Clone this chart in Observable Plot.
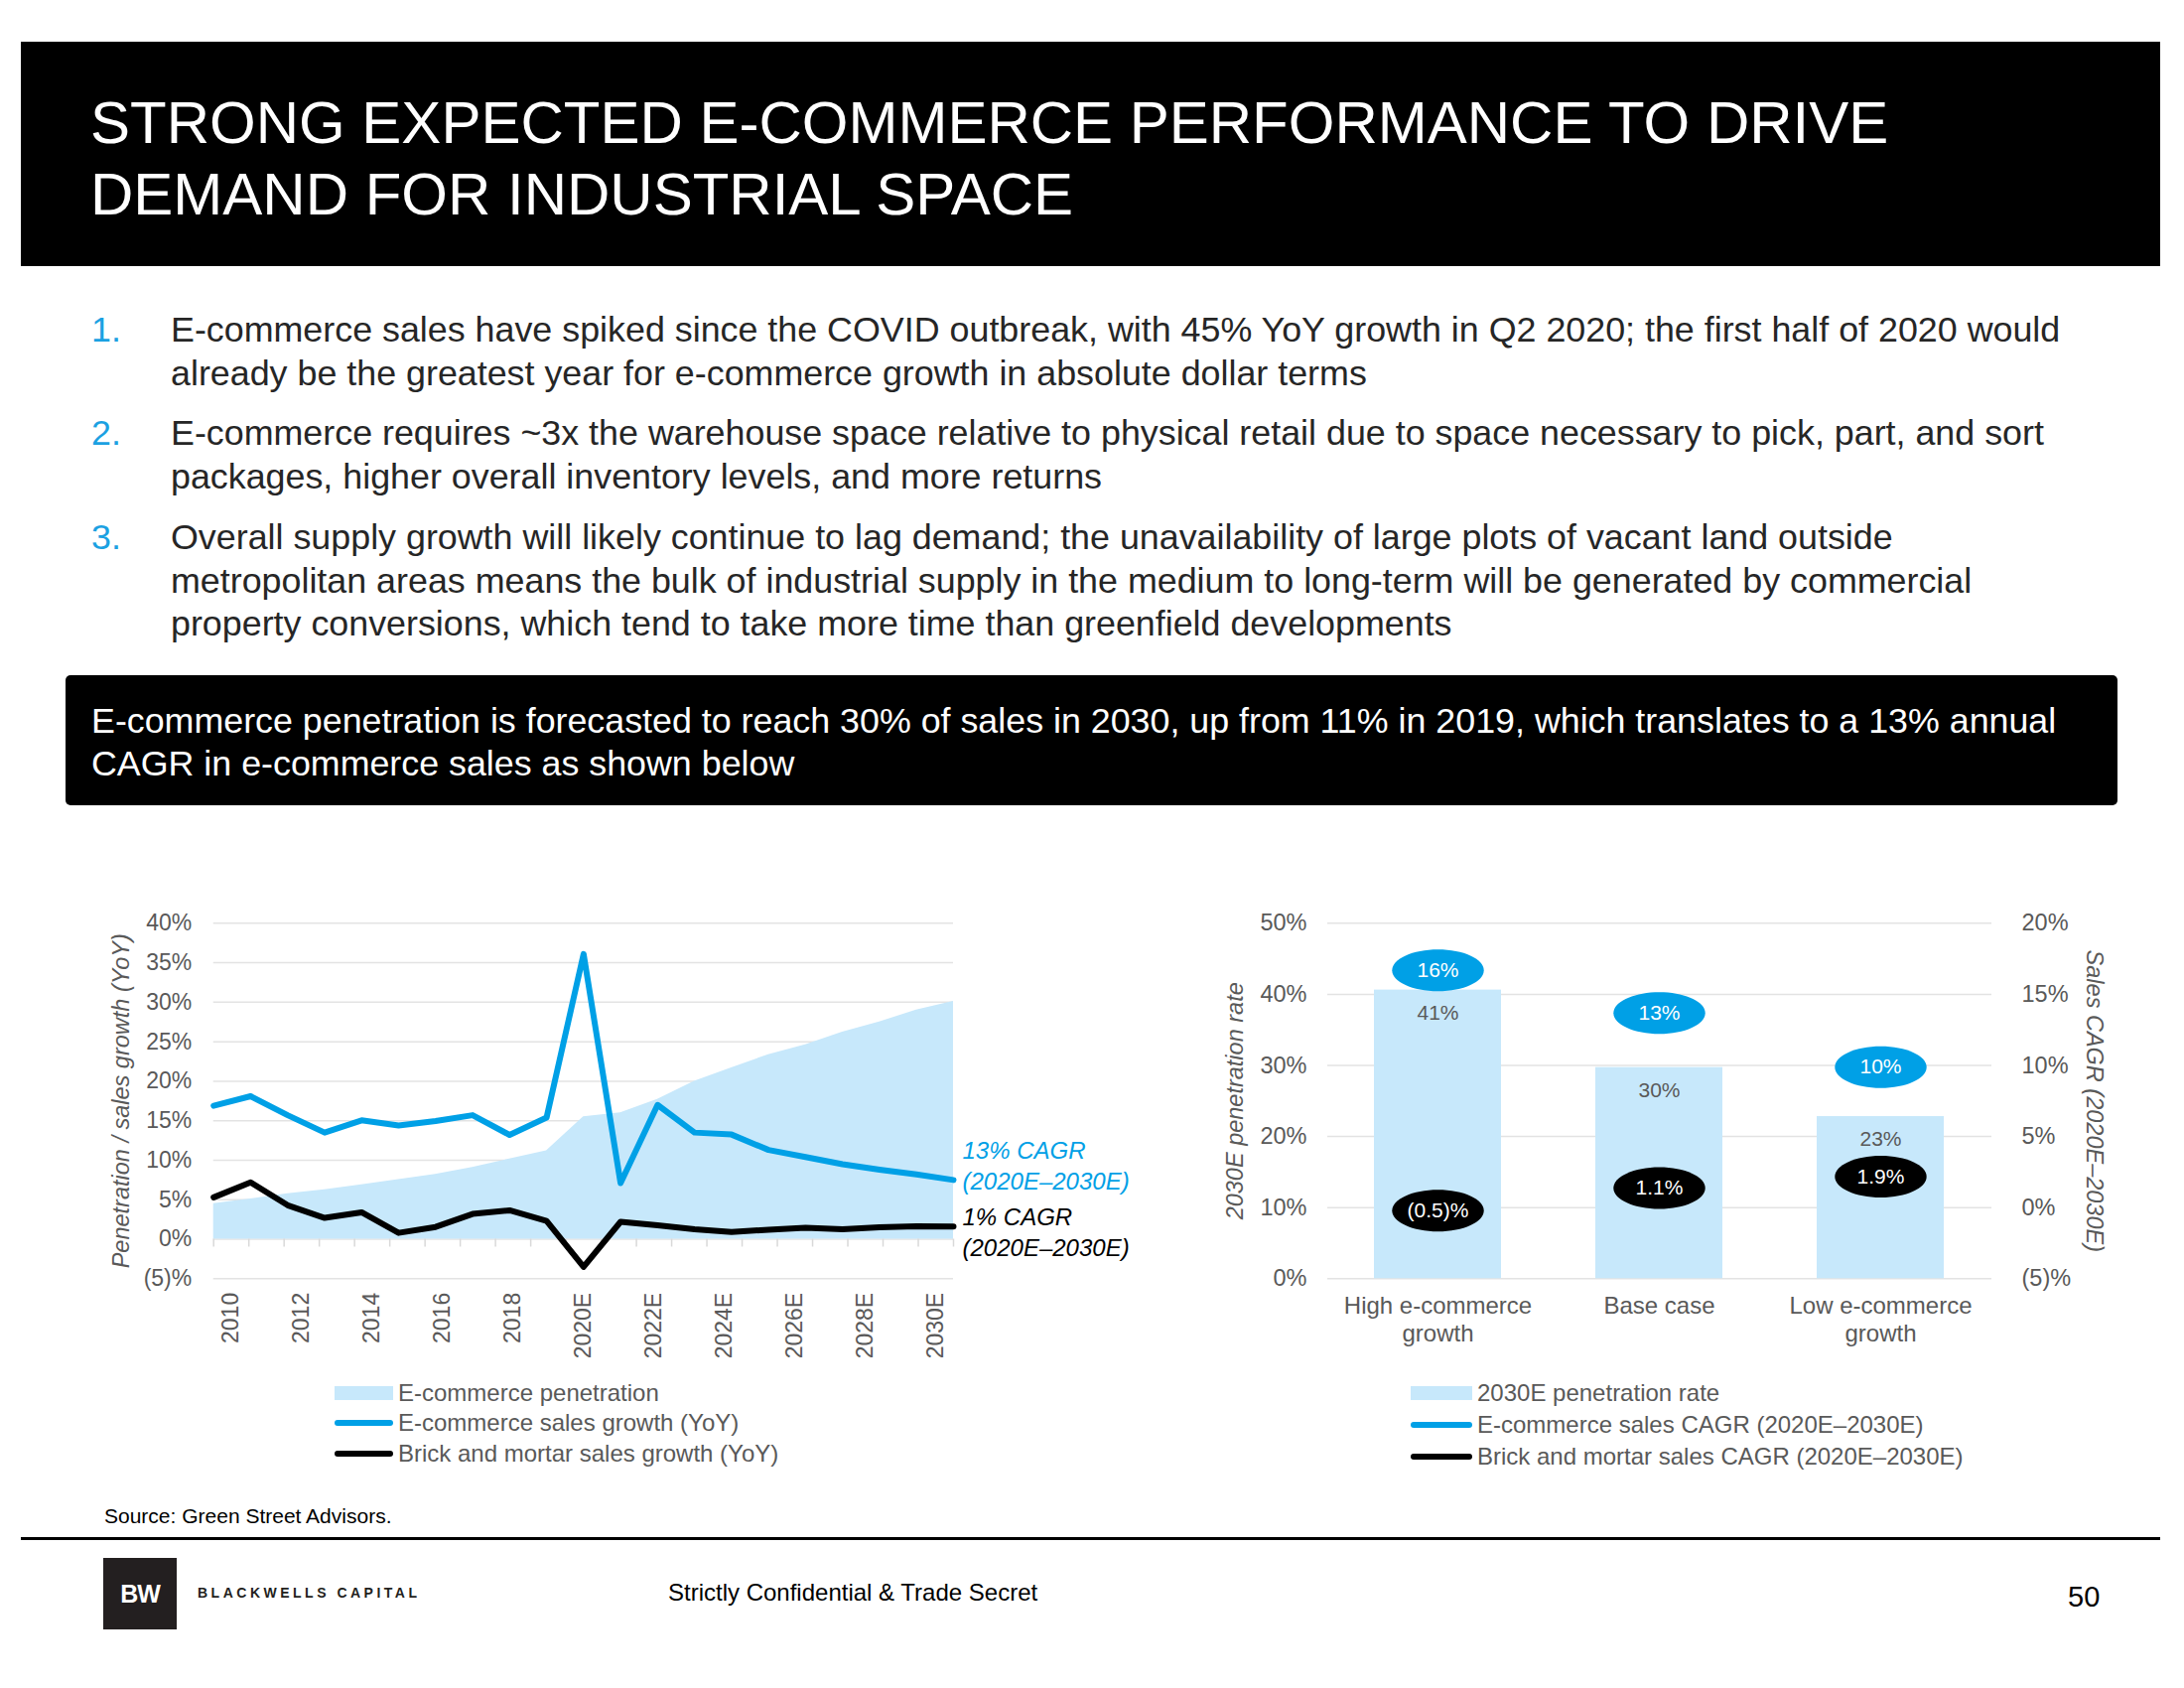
<!DOCTYPE html>
<html><head><meta charset="utf-8">
<script src="https://cdn.jsdelivr.net/npm/d3@7"></script>
<script src="https://cdn.jsdelivr.net/npm/@observablehq/plot@0.6"></script>
<style>
html,body{margin:0;padding:0;background:#fff;}
#page{position:relative;width:2200px;height:1700px;overflow:hidden;font-family:"Liberation Sans",Arial,sans-serif;}
.abs{position:absolute;white-space:nowrap;}
.legrow{position:absolute;height:30px;display:flex;align-items:center;font-size:24px;color:#595959;white-space:nowrap;}
.sw{display:inline-block;margin-right:5px;}
</style></head>
<body><div id="page">
  <div class="abs" style="left:21px;top:42px;width:2155px;height:226px;background:#000;"></div>
  <div class="abs" style="left:91px;top:88px;font-size:60px;line-height:72px;color:#fff;">STRONG EXPECTED E-COMMERCE PERFORMANCE TO DRIVE<br>DEMAND FOR INDUSTRIAL SPACE</div>

  <div class="abs" style="left:92px;top:311px;font-size:35.85px;line-height:43.5px;color:#1BA1E2;">1.</div>
  <div class="abs" style="left:172px;top:311px;font-size:35.85px;line-height:43.5px;color:#262626;">E-commerce sales have spiked since the COVID outbreak, with 45% YoY growth in Q2 2020; the first half of 2020 would<br>already be the greatest year for e-commerce growth in absolute dollar terms</div>
  <div class="abs" style="left:92px;top:415px;font-size:35.85px;line-height:43.5px;color:#1BA1E2;">2.</div>
  <div class="abs" style="left:172px;top:415px;font-size:35.85px;line-height:43.5px;color:#262626;">E-commerce requires ~3x the warehouse space relative to physical retail due to space necessary to pick, part, and sort<br>packages, higher overall inventory levels, and more returns</div>
  <div class="abs" style="left:92px;top:520px;font-size:35.85px;line-height:43.5px;color:#1BA1E2;">3.</div>
  <div class="abs" style="left:172px;top:520px;font-size:35.85px;line-height:43.5px;color:#262626;">Overall supply growth will likely continue to lag demand; the unavailability of large plots of vacant land outside<br>metropolitan areas means the bulk of industrial supply in the medium to long-term will be generated by commercial<br>property conversions, which tend to take more time than greenfield developments</div>

  <div class="abs" style="left:66px;top:680px;width:2067px;height:131px;background:#000;border-radius:5px;"></div>
  <div class="abs" style="left:92px;top:705px;font-size:35.8px;line-height:42.5px;color:#fff;">E-commerce penetration is forecasted to reach 30% of sales in 2030, up from 11% in 2019, which translates to a 13% annual<br>CAGR in e-commerce sales as shown below</div>

  <div id="chartL" class="abs" style="left:60px;top:900px;"></div>
  <div id="chartR" class="abs" style="left:1200px;top:900px;"></div>

  <div class="legrow" style="left:337px;top:1388px;"><span class="sw" style="width:59px;height:14px;background:#C7E8FB;"></span>E-commerce penetration</div>
  <div class="legrow" style="left:337px;top:1418px;"><span class="sw" style="width:59px;height:6px;border-radius:3px;background:#00A0E6;"></span>E-commerce sales growth (YoY)</div>
  <div class="legrow" style="left:337px;top:1449px;"><span class="sw" style="width:59px;height:6px;border-radius:3px;background:#000;"></span>Brick and mortar sales growth (YoY)</div>

  <div class="legrow" style="left:1421px;top:1388px;"><span class="sw" style="width:62px;height:14px;background:#C7E8FB;"></span>2030E penetration rate</div>
  <div class="legrow" style="left:1421px;top:1420px;"><span class="sw" style="width:62px;height:6px;border-radius:3px;background:#00A0E6;"></span>E-commerce sales CAGR (2020E–2030E)</div>
  <div class="legrow" style="left:1421px;top:1452px;"><span class="sw" style="width:62px;height:6px;border-radius:3px;background:#000;"></span>Brick and mortar sales CAGR (2020E–2030E)</div>

  <div class="abs" style="left:105px;top:1516px;font-size:21px;line-height:21px;color:#000;">Source: Green Street Advisors.</div>
  <div class="abs" style="left:21px;top:1548px;width:2155px;height:3px;background:#000;"></div>
  <div class="abs" style="left:104px;top:1569px;width:74px;height:72px;background:#231F20;color:#fff;font-weight:bold;font-size:25px;line-height:72px;text-align:center;letter-spacing:-1px;">BW</div>
  <div class="abs" style="left:199px;top:1596px;font-size:14px;line-height:16px;font-weight:bold;letter-spacing:3.5px;color:#231F20;">BLACKWELLS CAPITAL</div>
  <div class="abs" style="left:673px;top:1592px;font-size:24px;line-height:24px;color:#000;">Strictly Confidential &amp; Trade Secret</div>
  <div class="abs" style="left:2083px;top:1594px;font-size:29px;line-height:29px;color:#000;">50</div>
</div>
<script>
// ---------- Left chart data ----------
const years = [2010,2011,2012,2013,2014,2015,2016,2017,2018,2019,2020,2021,2022,2023,2024,2025,2026,2027,2028,2029,2030];
const yearLabels = ["2010","2012","2014","2016","2018","2020E","2022E","2024E","2026E","2028E","2030E"];
const labelYears = [2010,2012,2014,2016,2018,2020,2022,2024,2026,2028,2030];
const penetration = [4.5,5.1,5.75,6.25,6.9,7.55,8.2,9.1,10.15,11.2,15.5,16.0,17.7,20.0,21.7,23.35,24.6,26.2,27.5,29.0,30.1];
const ecomGrowth = [16.9,18.1,15.7,13.5,15.05,14.4,14.95,15.7,13.2,15.4,36.1,7.1,17.0,13.5,13.25,11.3,10.4,9.5,8.8,8.2,7.5];
const bmGrowth = [5.3,7.2,4.3,2.7,3.4,0.8,1.55,3.2,3.65,2.3,-3.5,2.2,1.76,1.26,0.92,1.2,1.45,1.25,1.5,1.65,1.6];
const leftTicks = [-5,0,5,10,15,20,25,30,35,40];
const cagrNotes = ["13% CAGR\n(2020E–2030E)", "1% CAGR\n(2020E–2030E)"];
const leftTitle = "Penetration / sales growth (YoY)";

// ---------- Right chart data ----------
const scenarios = ["High e-commerce\ngrowth", "Base case", "Low e-commerce\ngrowth"];
const pen2030 = [40.6, 29.7, 22.8];
const ecomCagr = [16.4, 13.4, 9.6];
const bmCagr = [-0.5, 1.1, 1.9];
const rightTicksL = [0,10,20,30,40,50];
const rightTicksR = [-5,0,5,10,15,20];
const rightTitleL = "2030E penetration rate";
const rightTitleR = "Sales CAGR (2020E–2030E)";

const BLUE = "#00A0E6", LIGHT = "#C7E8FB", GRID = "#E3E3E3", TXT = "#595959";
const pct = v => v < 0 ? `(${-v})%` : `${v}%`;

// left chart
const nCat = years.length;
const span = years[nCat-1] - years[0];
const catPos = i => years[0] + (i + 0.5) * span / nCat;          // category band centers (Excel style)
const tickPos = labelYears.map(y => catPos(y - years[0]));
const tickLabel = new Map(tickPos.map((p, i) => [p, yearLabels[i]]));
const boundaries = d3.range(nCat + 1).map(k => years[0] + k * span / nCat);
const rowsL = years.map((y, i) => ({year: y, pen: penetration[i], ecom: ecomGrowth[i], bm: bmGrowth[i]}));
const last = rowsL[rowsL.length - 1];

const left = Plot.plot({
  width: 1090, height: 468,
  marginLeft: 154.7, marginRight: 190, marginTop: 29.3, marginBottom: 80.7,
  style: {fontFamily: "Liberation Sans, Arial, sans-serif", fontSize: "24px", color: TXT, background: "transparent", overflow: "visible"},
  x: {domain: [years[0], years[nCat-1]]},
  y: {domain: [-5, 40]},
  marks: [
    Plot.ruleY(leftTicks, {stroke: GRID, strokeWidth: 1.5}),
    Plot.areaY(rowsL, {x: "year", y: "pen", fill: LIGHT}),
    Plot.ruleX(boundaries, {y1: 0, y2: -1, stroke: "#D9D9D9", strokeWidth: 1.5}),
    Plot.line(rowsL, {x: "year", y: "ecom", stroke: BLUE, strokeWidth: 6, strokeLinejoin: "round"}),
    Plot.line(rowsL, {x: "year", y: "bm", stroke: "#000", strokeWidth: 6, strokeLinejoin: "round"}),
    Plot.axisY(leftTicks, {tickFormat: pct, tickSize: 0, tickPadding: 22, fontSize: 23, label: null}),
    Plot.axisX(tickPos, {tickFormat: d => tickLabel.get(d), tickRotate: -90, tickSize: 0, tickPadding: 14, fontSize: 23, label: null}),
    Plot.text([leftTitle], {text: d => d, frameAnchor: "left", textAnchor: "middle", dx: -93, rotate: -90, fontStyle: "italic", fontSize: 23.5, fill: TXT}),
    Plot.text([{x: last.year, y: last.ecom, t: cagrNotes[0]}], {x: "x", y: "y", text: "t", textAnchor: "start", dx: 9, dy: -16, lineHeight: 1.3, fill: BLUE, fontStyle: "italic", fontSize: 24}),
    Plot.text([{x: last.year, y: last.bm, t: cagrNotes[1]}], {x: "x", y: "y", text: "t", textAnchor: "start", dx: 9, dy: 4, lineHeight: 1.3, fill: "#000", fontStyle: "italic", fontSize: 24})
  ]
});
document.getElementById("chartL").appendChild(left);

// right chart (CAGR mapped onto penetration axis: secondary axis -5..20 -> 0..50)
const toPen = c => (c + 5) * 2;
const rowsR = scenarios.map((s, i) => ({s, pen: pen2030[i], ecom: ecomCagr[i], bm: bmCagr[i]}));
const ellipse = {
  draw(ctx, size) {
    const r = Math.sqrt(size / Math.PI), rx = r * 2.2, ry = r, k = 0.5523;
    ctx.moveTo(rx, 0);
    ctx.bezierCurveTo(rx, ry * k, rx * k, ry, 0, ry);
    ctx.bezierCurveTo(-rx * k, ry, -rx, ry * k, -rx, 0);
    ctx.bezierCurveTo(-rx, -ry * k, -rx * k, -ry, 0, -ry);
    ctx.bezierCurveTo(rx * k, -ry, rx, -ry * k, rx, 0);
    ctx.closePath();
  }
};
const right = Plot.plot({
  width: 940, height: 468,
  marginLeft: 137, marginRight: 134, marginTop: 29.3, marginBottom: 80.7,
  style: {fontFamily: "Liberation Sans, Arial, sans-serif", fontSize: "24px", color: TXT, background: "transparent", overflow: "visible"},
  x: {domain: scenarios, paddingInner: 0.426, paddingOuter: 0.213},
  y: {domain: [0, 50]},
  marks: [
    Plot.ruleY(rightTicksL, {stroke: GRID, strokeWidth: 1.5}),
    Plot.barY(rowsR, {x: "s", y: "pen", fill: LIGHT}),
    Plot.text(rowsR, {x: "s", y: "pen", text: d => `${Math.round(d.pen)}%`, dy: 23, fontSize: 21, fill: TXT}),
    Plot.dot(rowsR, {x: "s", y: d => toPen(d.ecom), r: 21, symbol: ellipse, fill: BLUE, stroke: "none", dy: -4}),
    Plot.text(rowsR, {x: "s", y: d => toPen(d.ecom), text: d => `${Math.round(d.ecom)}%`, dy: -4, fontSize: 21, fill: "#fff"}),
    Plot.dot(rowsR, {x: "s", y: d => toPen(d.bm), r: 21, symbol: ellipse, fill: "#000", stroke: "none", dy: -4}),
    Plot.text(rowsR, {x: "s", y: d => toPen(d.bm), text: d => pct(d.bm), dy: -4, fontSize: 21, fill: "#fff"}),
    Plot.axisY(rightTicksL, {anchor: "left", tickFormat: pct, tickSize: 0, tickPadding: 21, fontSize: 23.5, label: null}),
    Plot.axisY(rightTicksR.map(toPen), {anchor: "right", tickFormat: d => pct(d / 2 - 5), tickSize: 0, tickPadding: 30, fontSize: 23.5, label: null}),
    Plot.axisX({tickSize: 0, tickPadding: 15, fontSize: 24, lineHeight: 1.17, label: null}),
    Plot.text([rightTitleL], {text: d => d, frameAnchor: "left", textAnchor: "middle", dx: -93, rotate: -90, fontStyle: "italic", fontSize: 23.5, fill: TXT}),
    Plot.text([rightTitleR], {text: d => d, frameAnchor: "right", textAnchor: "middle", dx: 103, rotate: 90, fontStyle: "italic", fontSize: 23.5, fill: TXT})
  ]
});
document.getElementById("chartR").appendChild(right);
</script>
</body></html>
